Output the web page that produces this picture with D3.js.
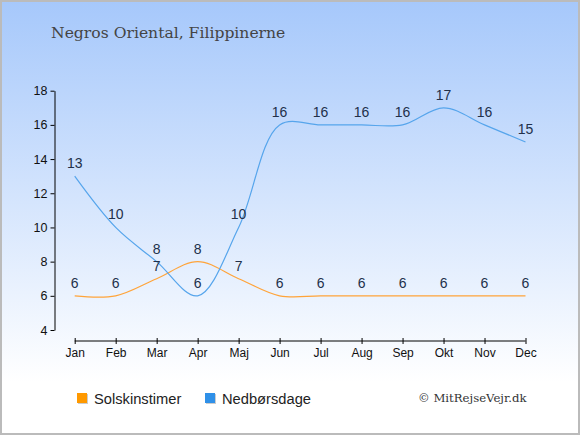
<!DOCTYPE html>
<html>
<head>
<meta charset="utf-8">
<script src="https://cdn.jsdelivr.net/npm/d3@7"></script>
<style>
  body { margin: 0; padding: 0; }
  svg { display: block; }
</style>
</head>
<body>
<script>
var width = 580, height = 435;

var months = ["Jan", "Feb", "Mar", "Apr", "Maj", "Jun", "Jul", "Aug", "Sep", "Okt", "Nov", "Dec"];
var sunHours = [6, 6, 7, 8, 7, 6, 6, 6, 6, 6, 6, 6];
var rainDays = [13, 10, 8, 6, 10, 16, 16, 16, 16, 17, 16, 15];
var yTicks = [4, 6, 8, 10, 12, 14, 16, 18];

var color_sun = "#ffa43a", color_rain = "#56a5ec";
var color_sun_box = "#ff9900", color_rain_box = "#2f90e8";
var color_label = "#22304a";

var svg = d3.select("body").append("svg")
  .attr("width", width)
  .attr("height", height);

var grad = svg.append("defs").append("linearGradient")
  .attr("id", "bg").attr("x1", 0).attr("y1", 0).attr("x2", 0).attr("y2", 1);
grad.append("stop").attr("offset", "0%").attr("stop-color", "#a6c8fb");
grad.append("stop").attr("offset", "88%").attr("stop-color", "#ffffff");
grad.append("stop").attr("offset", "100%").attr("stop-color", "#ffffff");

svg.append("rect")
  .attr("x", 1).attr("y", 1)
  .attr("width", width - 2).attr("height", height - 2)
  .attr("fill", "url(#bg)")
  .attr("stroke", "#bbbbbb").attr("stroke-width", 2);

svg.append("text")
  .attr("x", 51).attr("y", 38)
  .attr("font-family", "DejaVu Serif")
  .attr("font-size", 15.6)
  .attr("fill", "#444444")
  .text("Negros Oriental, Filippinerne");

var x = d3.scalePoint().domain(months).range([74.7, 525.5]);
var y = d3.scaleLinear().domain([4, 18]).range([330, 90.7]);

// y axis
var yAxis = svg.append("g")
  .attr("transform", "translate(54.5,0)")
  .call(d3.axisLeft(y).tickValues(yTicks).tickSize(4).tickPadding(3).tickSizeOuter(0));
yAxis.select(".domain").attr("stroke", "#000");
yAxis.selectAll("text").attr("font-family", "Liberation Sans, Arial").attr("font-size", 12.5).attr("fill", "#111");

// x axis
var xAxis = svg.append("g")
  .attr("transform", "translate(0,341)")
  .call(d3.axisBottom(x).tickSize(3).tickPadding(4).tickSizeOuter(0));
xAxis.select(".domain").attr("d", "M" + x("Jan") + ",0H" + x("Dec")).attr("stroke", "#000");
xAxis.selectAll(".tick line").attr("y1", -3);
xAxis.selectAll("text").attr("font-family", "Liberation Sans, Arial").attr("font-size", 12).attr("fill", "#111");

var line = d3.line()
  .x(function(d, i) { return x(months[i]); })
  .y(function(d) { return y(d); })
  .curve(d3.curveCatmullRom.alpha(0.5));

svg.append("path").datum(sunHours)
  .attr("d", line).attr("fill", "none")
  .attr("stroke", color_sun).attr("stroke-width", 1.2);

svg.append("path").datum(rainDays)
  .attr("d", line).attr("fill", "none")
  .attr("stroke", color_rain).attr("stroke-width", 1.2);

function labels(data, cls) {
  svg.selectAll("text." + cls).data(data)
    .enter().append("text")
    .attr("class", cls)
    .attr("x", function(d, i) { return x(months[i]); })
    .attr("y", function(d) { return y(d) - 8; })
    .attr("text-anchor", "middle")
    .attr("font-family", "Liberation Sans, Arial")
    .attr("font-size", 14)
    .attr("fill", color_label)
    .text(function(d) { return d; });
}
labels(sunHours, "sunlab");
labels(rainDays, "rainlab");

// legend
var legend = [
  { name: "Solskinstimer", color: color_sun_box, x: 77 },
  { name: "Nedbørsdage", color: color_rain_box, x: 205 }
];
var lg = svg.selectAll("g.legend").data(legend)
  .enter().append("g")
  .attr("class", "legend")
  .attr("transform", function(d) { return "translate(" + d.x + ",393)"; });
lg.append("rect")
  .attr("x", 1).attr("y", 1).attr("width", 10).attr("height", 10)
  .attr("fill", "#cccccc");
lg.append("rect")
  .attr("width", 10).attr("height", 10)
  .attr("fill", function(d) { return d.color; });
lg.append("text")
  .attr("x", 17).attr("y", 10.5)
  .attr("font-family", "Liberation Sans, Arial")
  .attr("font-size", 14.7)
  .attr("fill", "#222")
  .text(function(d) { return d.name; });

svg.append("text")
  .attr("x", 418).attr("y", 402)
  .attr("font-family", "DejaVu Serif")
  .attr("font-size", 11.7)
  .attr("fill", "#333")
  .text("© MitRejseVejr.dk");
</script>
</body>
</html>
